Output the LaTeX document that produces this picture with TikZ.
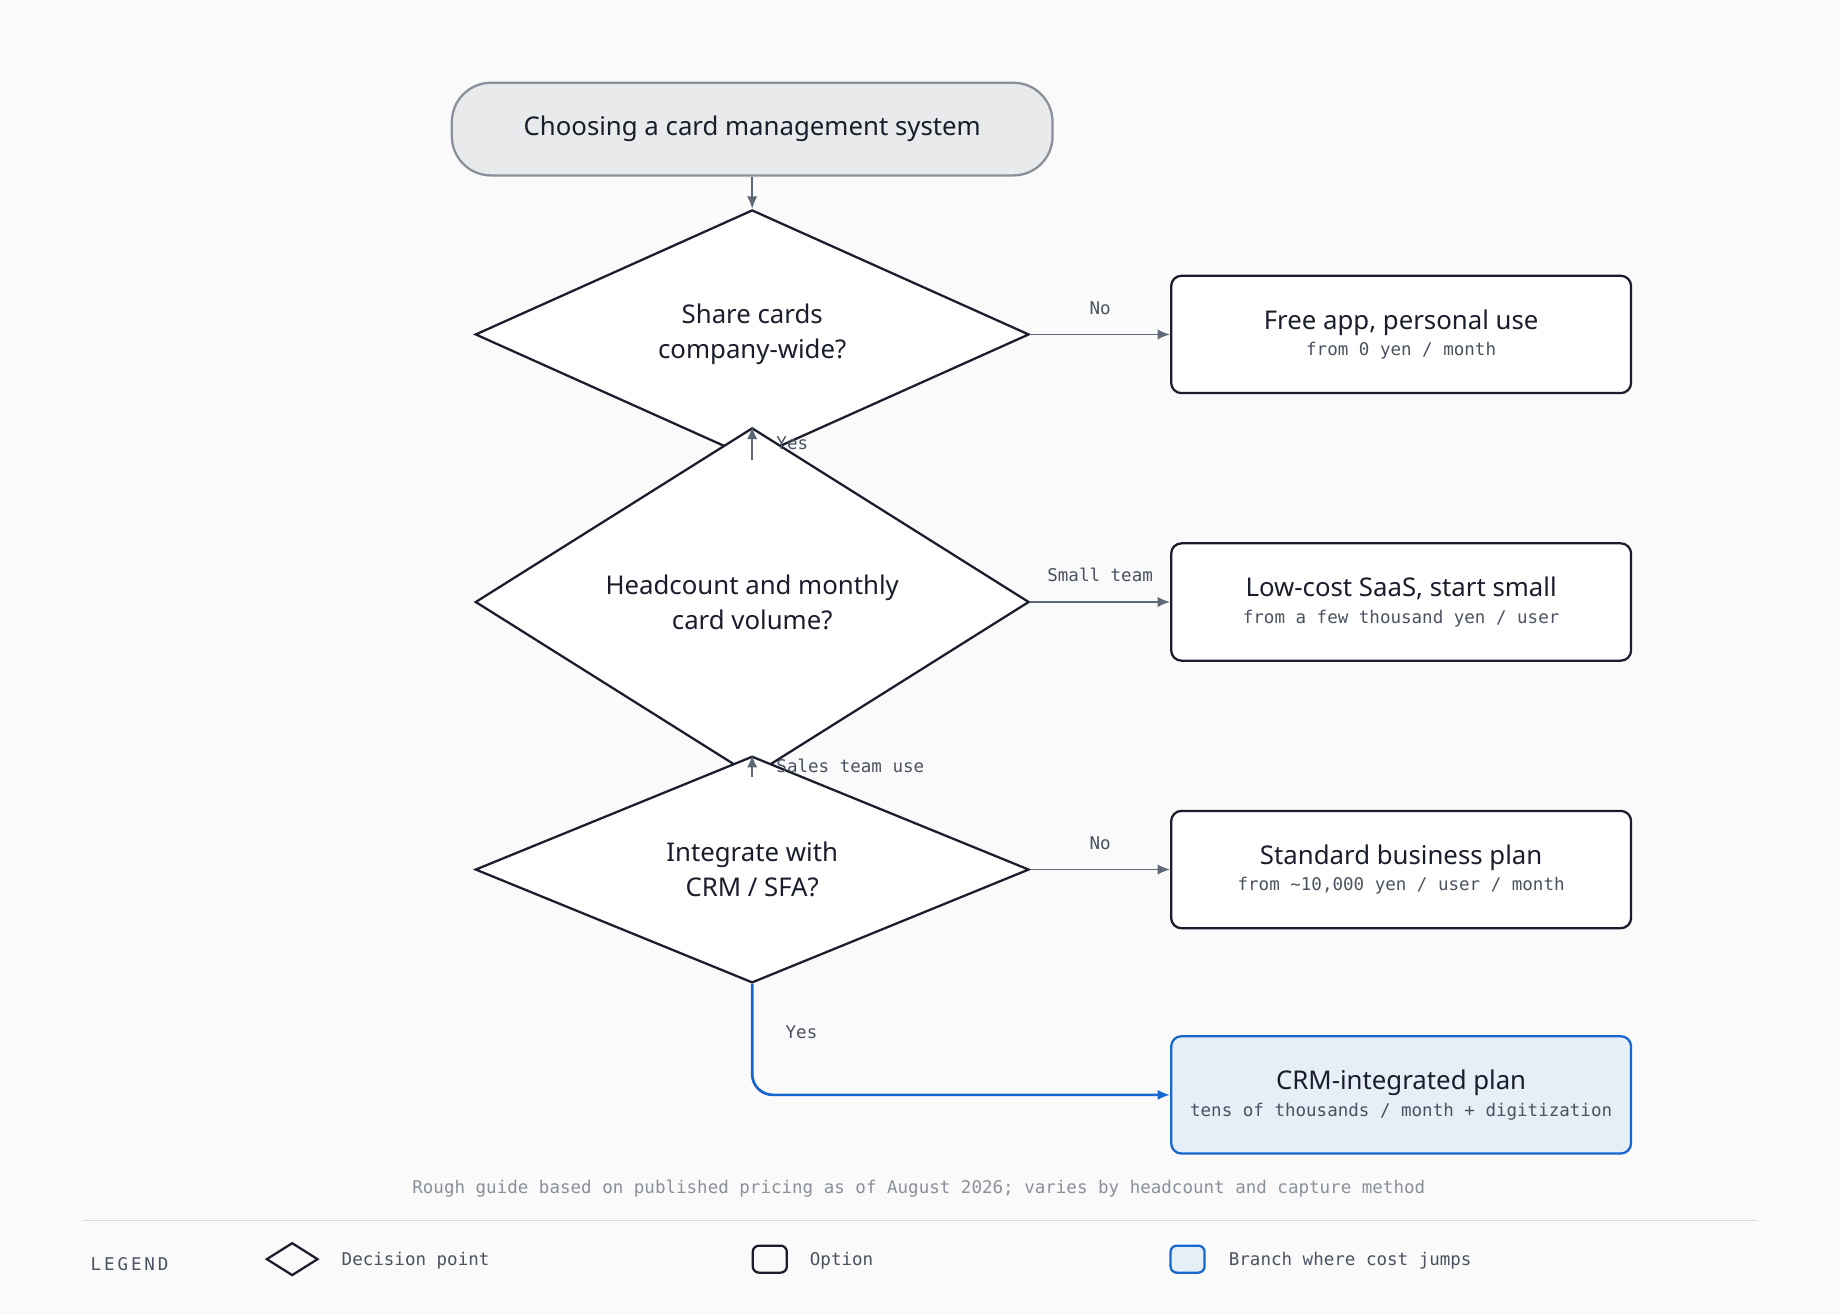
\documentclass[tikz,border=0pt]{standalone}
\usepackage{fontspec}
\setmainfont{Noto Sans}
\setmonofont{DejaVu Sans Mono}
\usetikzlibrary{positioning, arrows.meta, shapes.geometric, calc}
\definecolor{inkc}{HTML}{1A1D2B}
\definecolor{linec}{HTML}{5F6876}
\definecolor{subc}{HTML}{4A5260}
\definecolor{titlefill}{HTML}{E9EAEC}
\definecolor{titledraw}{HTML}{8A9099}
\definecolor{bluec}{HTML}{1668D0}
\definecolor{bluefill}{HTML}{E6EEF7}
\definecolor{bgc}{HTML}{FAFAFA}
\tikzset{
  decision/.style={diamond, draw=inkc, fill=white, line width=1.1pt, minimum width=9.44cm, minimum height=3.12cm, inner sep=0pt, align=center, font=\fontsize{12.5}{17}\selectfont\bfseries, text=inkc},
  option/.style={rectangle, rounded corners=5pt, draw=inkc, fill=white, line width=1.1pt, minimum width=7.84cm, minimum height=2cm, align=center, text=inkc},
  flow/.style={-{Latex[length=6pt,width=5pt]}, draw=linec, line width=0.9pt},
  tag/.style={font=\ttfamily\fontsize{8.5}{10}\selectfont, text=subc},
}
\newcommand{\opttext}[2]{{\fontsize{12.5}{17}\selectfont\bfseries #1}\\[1pt]{\ttfamily\fontsize{8.5}{11}\selectfont\color{subc}#2}}
\begin{document}
\begin{tikzpicture}[x=0.02cm, y=-0.02cm]
    \fill [bgc] (0,0) rectangle (1568,1120);
    \useasboundingbox (0,0) rectangle (1568,1120);
    % Start
    \node (start) [rounded corners=19pt, draw=titledraw, fill=titlefill, line width=1.1pt, minimum width=10.24cm, minimum height=1.58cm, font=\fontsize{12.5}{17}\selectfont\bfseries, text=inkc] at (641,110) {Choosing a card management system};
    % Decisions
    \node (share) [decision] at (641,285) {Share cards\\company-wide?};
    \node (heads) [decision] at (641,513) {Headcount and monthly\\card volume?};
    \node (crm)   [decision] at (641,741) {Integrate with\\CRM / SFA?};
    % Options
    \node (free)  [option] at (1194,285) {\opttext{Free app, personal use}{from 0 yen / month}};
    \node (low)   [option] at (1194,513) {\opttext{Low-cost SaaS, start small}{from a few thousand yen / user}};
    \node (std)   [option] at (1194,741) {\opttext{Standard business plan}{from \textasciitilde10,000 yen / user / month}};
    \node (plan)  [option, draw=bluec, fill=bluefill, inner sep=1pt] at (1194,933) {\opttext{CRM-integrated plan}{tens of thousands / month + digitization}};
    % Connectors
    \draw [flow] (start) -- (share);
    \draw [flow] (share) -- node[tag, right=8pt] {Yes} (heads);
    \draw [flow] (heads) -- node[tag, right=8pt] {Sales team use} (crm);
    \draw [flow] (share) -- node[tag, above=6pt] {No} (free);
    \draw [flow] (heads) -- node[tag, above=6pt] {Small team} (low);
    \draw [flow] (crm) -- node[tag, above=6pt] {No} (std);
    \draw [flow, draw=bluec, line width=1.3pt, rounded corners=10pt] (crm.south) |- (plan.west);
    \node [tag] at (683,880) {Yes};
    % Footnote and legend
    \node (note) [font=\ttfamily\fontsize{8.5}{10}\selectfont, text=titledraw] at (783,1013) {Rough guide based on published pricing as of August 2026; varies by headcount and capture method};
    \draw [draw=black!15, line width=0.8pt] (71,1040) -- (1497,1040);
    \node (legend) [font=\ttfamily\fontsize{8.5}{10}\selectfont, text=subc, anchor=west] at (71,1077) {L\,E\,G\,E\,N\,D};
    \node (kdec) [diamond, draw=inkc, line width=1.1pt, minimum width=0.88cm, minimum height=0.56cm, inner sep=0pt] at (249,1073) {};
    \node [tag, anchor=west] at (285,1074) {Decision point};
    \node (kopt) [draw=inkc, rounded corners=3pt, line width=1.1pt, minimum width=0.58cm, minimum height=0.46cm] at (656,1073) {};
    \node [tag, anchor=west] at (684,1074) {Option};
    \node (kjump) [draw=bluec, fill=bluefill, rounded corners=3pt, line width=1.1pt, minimum width=0.58cm, minimum height=0.46cm] at (1012,1073) {};
    \node [tag, anchor=west] at (1041,1074) {Branch where cost jumps};
\end{tikzpicture}
\end{document}
